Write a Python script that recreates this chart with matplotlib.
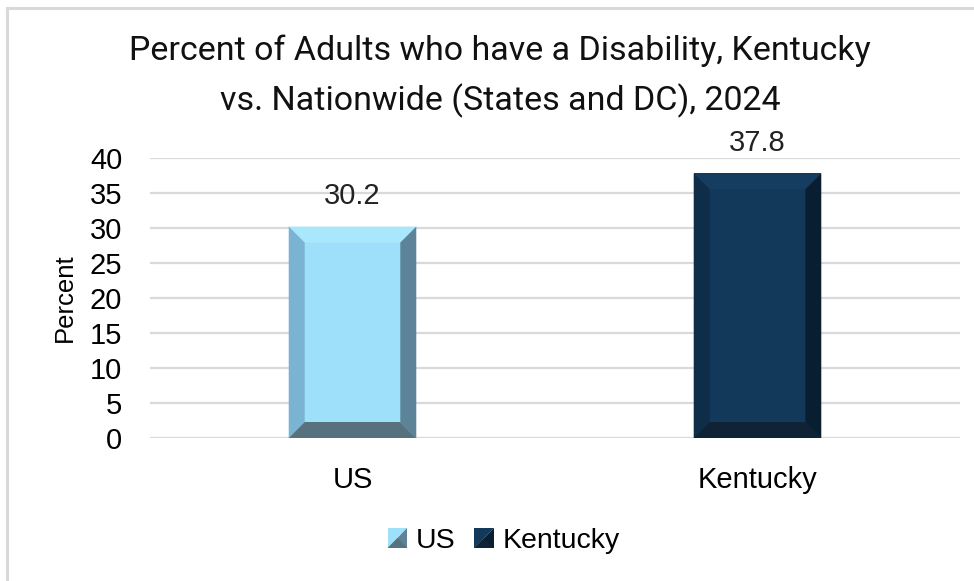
import matplotlib
matplotlib.use("Agg")
import matplotlib.pyplot as plt
from matplotlib import font_manager
from matplotlib.patches import Polygon, Rectangle
from matplotlib.legend_handler import HandlerBase
from matplotlib.lines import Line2D

categories = ["US", "Kentucky"]
values = [30.2, 37.8]
y_ticks = [0, 5, 10, 15, 20, 25, 30, 35, 40]
title = "Percent of Adults who have a Disability, Kentucky\nvs. Nationwide (States and DC), 2024"
y_label = "Percent"

# face, top, left, right, bottom bevel shades for each bar
palettes = [
    dict(face="#9edff9", top="#a9e7fc", left="#7bb4d2", right="#5c8397", bottom="#58717f"),
    dict(face="#12385a", top="#143d60", left="#0e2d48", right="#091e31", bottom="#102236"),
]

available = {f.name for f in font_manager.fontManager.ttflist}
title_font = "Liberation Sans Narrow" if "Liberation Sans Narrow" in available else "Roboto"
body_font = "Liberation Sans"
fs = 21

fig = plt.figure(figsize=(9.74, 5.81), dpi=100)
fig.patch.set_facecolor("white")

# outer chart frame (top and left edges visible)
fig.add_artist(Line2D([7 / 974, 7 / 974], [0, 1 - 8 / 581], transform=fig.transFigure,
                      color="#d9d9d9", lw=2.2))
fig.add_artist(Line2D([7 / 974, 1], [1 - 8 / 581, 1 - 8 / 581], transform=fig.transFigure,
                      color="#d9d9d9", lw=2.2))

ax = fig.add_axes([150 / 974, 1 - 438 / 581, 810 / 974, 280 / 581])
ax.set_xlim(-0.5, 1.5)
ax.set_ylim(0, 40)

for s in ax.spines.values():
    s.set_visible(False)
ax.set_yticks(y_ticks)
ax.set_yticklabels([str(t) for t in y_ticks], fontsize=fs, fontfamily=body_font)
ax.yaxis.grid(True, color="#d9d9d9", lw=1.6)
ax.set_axisbelow(True)
ax.tick_params(axis="y", length=0, pad=20)
ax.set_xticks(range(len(categories)))
ax.set_xticklabels(categories, fontsize=fs, fontfamily=body_font)
ax.tick_params(axis="x", length=0, pad=20)
ax.set_ylabel(y_label, fontsize=18.5, fontfamily=body_font, labelpad=9)

bar_width = 0.315
# bevel thickness in pixels converted to data units
bevel_px = 16
px_x = (ax.get_xlim()[1] - ax.get_xlim()[0]) / 810
px_y = (ax.get_ylim()[1] - ax.get_ylim()[0]) / 280
bx = bevel_px * px_x
by = bevel_px * px_y


def beveled_bar(x, h, pal, z=3):
    x0, x1 = x - bar_width / 2, x + bar_width / 2
    y0, y1 = 0, h
    ix0, ix1, iy0, iy1 = x0 + bx, x1 - bx, y0 + by, y1 - by
    ax.add_patch(Rectangle((x0, y0), x1 - x0, y1 - y0, facecolor=pal["face"], lw=0, zorder=z))
    ax.add_patch(Polygon([(x0, y1), (x1, y1), (ix1, iy1), (ix0, iy1)], closed=True,
                         facecolor=pal["top"], lw=0, zorder=z + 1))
    ax.add_patch(Polygon([(x0, y0), (x0, y1), (ix0, iy1), (ix0, iy0)], closed=True,
                         facecolor=pal["left"], lw=0, zorder=z + 1))
    ax.add_patch(Polygon([(x1, y0), (x1, y1), (ix1, iy1), (ix1, iy0)], closed=True,
                         facecolor=pal["right"], lw=0, zorder=z + 1))
    ax.add_patch(Polygon([(x0, y0), (x1, y0), (ix1, iy0), (ix0, iy0)], closed=True,
                         facecolor=pal["bottom"], lw=0, zorder=z + 1))


for i, (v, pal) in enumerate(zip(values, palettes)):
    beveled_bar(i, v, pal)
    ax.annotate(f"{v:.1f}", xy=(i, v), xytext=(0, 22), textcoords="offset points",
                ha="center", va="center", fontsize=fs, fontfamily=body_font, color="#222222")

fig.text(500 / 974, 1 - 76 / 581, title, ha="center", va="center", fontsize=24.5,
         fontfamily=title_font, linespacing=1.6, color="#111111")


class BevelSquare(HandlerBase):
    def __init__(self, pal):
        super().__init__()
        self.pal = pal

    def create_artists(self, legend, orig_handle, xdescent, ydescent, width, height, fontsize, trans):
        s = height * 1.0
        x0 = width - s
        y0 = (height - s) / 2
        a = Polygon([(x0, y0), (x0, y0 + s), (x0 + s, y0 + s)], closed=True,
                    facecolor=self.pal["face"], lw=0, transform=trans)
        b = Polygon([(x0, y0), (x0 + s, y0), (x0 + s, y0 + s)], closed=True,
                    facecolor=self.pal["right"], lw=0, transform=trans)
        c = Polygon([(x0 + s * 0.5, y0 + s * 0.5), (x0, y0), (x0 + s, y0)], closed=True,
                    facecolor=self.pal["bottom"], lw=0, transform=trans)
        return [a, b, c]


handles = [Rectangle((0, 0), 1, 1) for _ in categories]
leg = fig.legend(handles, categories, loc="center", bbox_to_anchor=(503 / 974, 1 - 541 / 581),
                 ncol=2, frameon=False, handlelength=0.75, handletextpad=0.3, columnspacing=0.6,
                 prop={"family": body_font, "size": 20.5},
                 handler_map={h: BevelSquare(p) for h, p in zip(handles, palettes)})

fig.savefig("out.png", dpi=100, facecolor="white")
